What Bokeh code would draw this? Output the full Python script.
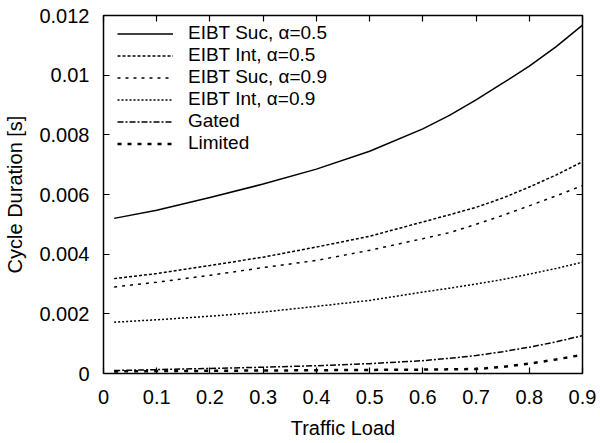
from bokeh.plotting import figure
from bokeh.models import Range1d, FixedTicker, LinearAxis, Legend, LegendItem
from bokeh.embed import file_html
from bokeh.resources import INLINE

# ---- data ----
load = [0.02, 0.1, 0.2, 0.3, 0.4, 0.5, 0.6, 0.65, 0.7, 0.75, 0.8, 0.85, 0.9]
eibt_suc_05 = [5.20e-3, 5.47e-3, 5.90e-3, 6.35e-3, 6.85e-3, 7.45e-3, 8.20e-3, 8.65e-3, 9.17e-3, 9.73e-3, 10.30e-3, 10.95e-3, 11.68e-3]
eibt_int_05 = [3.18e-3, 3.35e-3, 3.62e-3, 3.90e-3, 4.24e-3, 4.60e-3, 5.08e-3, 5.32e-3, 5.57e-3, 5.88e-3, 6.25e-3, 6.65e-3, 7.10e-3]
eibt_suc_09 = [2.90e-3, 3.06e-3, 3.29e-3, 3.55e-3, 3.79e-3, 4.13e-3, 4.52e-3, 4.72e-3, 5.00e-3, 5.30e-3, 5.62e-3, 5.95e-3, 6.30e-3]
eibt_int_09 = [1.72e-3, 1.80e-3, 1.92e-3, 2.06e-3, 2.25e-3, 2.45e-3, 2.73e-3, 2.86e-3, 3.00e-3, 3.15e-3, 3.33e-3, 3.52e-3, 3.73e-3]
gated = [0.10e-3, 0.13e-3, 0.17e-3, 0.21e-3, 0.26e-3, 0.33e-3, 0.43e-3, 0.51e-3, 0.60e-3, 0.73e-3, 0.88e-3, 1.06e-3, 1.27e-3]
limited = [0.07e-3, 0.08e-3, 0.09e-3, 0.10e-3, 0.11e-3, 0.12e-3, 0.13e-3, 0.14e-3, 0.15e-3, 0.22e-3, 0.33e-3, 0.47e-3, 0.63e-3]

series_names = ["EIBT Suc, α=0.5", "EIBT Int, α=0.5", "EIBT Suc, α=0.9",
                "EIBT Int, α=0.9", "Gated", "Limited"]

x_ticks = [0, 0.1, 0.2, 0.3, 0.4, 0.5, 0.6, 0.7, 0.8, 0.9]
x_tick_labels = ["0", "0.1", "0.2", "0.3", "0.4", "0.5", "0.6", "0.7", "0.8", "0.9"]
y_ticks = [0, 0.002, 0.004, 0.006, 0.008, 0.01, 0.012]
y_tick_labels = ["0", "0.002", "0.004", "0.006", "0.008", "0.01", "0.012"]

FONT = "Liberation Sans"
FS = "20px"

p = figure(width=600, height=443, output_backend="svg", toolbar_location=None,
           x_range=Range1d(0, 0.9), y_range=Range1d(0, 0.012),
           min_border_left=103, min_border_right=18, min_border_top=15, min_border_bottom=70)
p.background_fill_color = "white"
p.border_fill_color = "white"
p.outline_line_color = "black"
p.outline_line_width = 1.5
p.xgrid.visible = False
p.ygrid.visible = False

def style_axis(ax, ticks, labels, show_labels):
    ax.ticker = FixedTicker(ticks=ticks)
    ax.major_label_overrides = {t: l for t, l in zip(ticks, labels)}
    ax.major_tick_in = 6
    ax.major_tick_out = 0
    ax.minor_tick_line_color = None
    ax.major_tick_line_color = "black"
    ax.major_tick_line_width = 1.2
    ax.axis_line_color = None
    ax.major_label_text_font = FONT
    ax.major_label_text_font_size = FS if show_labels else "0px"
    ax.major_label_text_color = "black"

style_axis(p.xaxis[0], x_ticks, x_tick_labels, True)
style_axis(p.yaxis[0], y_ticks, y_tick_labels, True)
p.xaxis[0].major_label_standoff = 16
p.yaxis[0].major_label_standoff = 14
p.xaxis[0].axis_label = "Traffic Load"
p.yaxis[0].axis_label = "Cycle Duration [s]"
for ax in (p.xaxis[0], p.yaxis[0]):
    ax.axis_label_text_font = FONT
    ax.axis_label_text_font_size = FS
    ax.axis_label_text_font_style = "normal"
    ax.axis_label_text_color = "black"
p.xaxis[0].axis_label_standoff = 10
p.yaxis[0].axis_label_standoff = 10

top_ax = LinearAxis()
style_axis(top_ax, x_ticks, [""] * len(x_ticks), False)
right_ax = LinearAxis()
style_axis(right_ax, y_ticks, [""] * len(y_ticks), False)
p.add_layout(top_ax, "above")
p.add_layout(right_ax, "right")

r1 = p.line(load, eibt_suc_05, line_color="black", line_width=1.5)
r2 = p.line(load, eibt_int_05, line_color="black", line_width=1.5, line_dash="3 2")
r3 = p.line(load, eibt_suc_09, line_color="black", line_width=1.5, line_dash="3 5")
r4 = p.line(load, eibt_int_09, line_color="black", line_width=1.5, line_dash="2 2")
r5 = p.line(load, gated, line_color="black", line_width=1.5, line_dash="6 2 2 2")
r6 = p.line(load, limited, line_color="black", line_width=2.5, line_dash="4 6")

items = [LegendItem(label=n, renderers=[r]) for n, r in zip(series_names, [r1, r2, r3, r4, r5, r6])]
legend = Legend(items=items, location=(14, 219), orientation="vertical")
legend.border_line_color = None
legend.background_fill_alpha = 0
legend.padding = 0
legend.margin = 0
legend.spacing = 0
legend.glyph_width = 56
legend.glyph_height = 21
legend.label_height = 21
legend.label_standoff = 15
legend.label_text_font = FONT
legend.label_text_font_size = "19px"
legend.label_text_color = "black"
p.add_layout(legend, "center")

open("out.html", "w").write(file_html(p, INLINE))
